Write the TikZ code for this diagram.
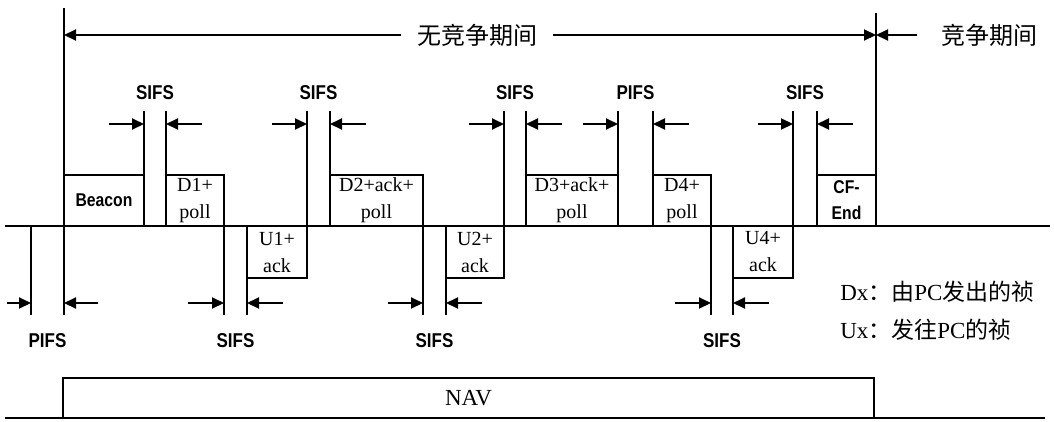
\documentclass[tikz,border=0pt]{standalone}
\usepackage{fontspec}
\setmainfont{Liberation Serif}
\newfontfamily\cjk{Noto Sans CJK SC}
\newfontfamily\lbl[FakeStretch=0.85]{Liberation Sans}
\usetikzlibrary{arrows.meta}
\begin{document}
\begin{tikzpicture}[x=1pt,y=-1pt,line width=2pt,
  tip/.style={-{Triangle[length=12pt,width=11pt]}},
  ifs/.style={font=\lbl\bfseries\fontsize{20}{20}\selectfont},
  fr/.style={draw,line width=2pt,inner sep=0pt,align=center,font=\fontsize{20}{27}\selectfont},
  sansfr/.style={fr,font=\lbl\bfseries\fontsize{18.5}{26}\selectfont},
  zh/.style={font=\cjk\fontsize{24}{24}\selectfont},
  leg/.style={anchor=west,font=\fontsize{23}{23}\selectfont}]
\useasboundingbox (0,0) rectangle (1054,421);
% main timeline and bottom line
\coordinate (bl0) at (5,226); \coordinate (bl1) at (1050,226);
\draw (bl0) -- (bl1);
\coordinate (nl0) at (5,418); \coordinate (nl1) at (1045,418);
\draw (nl0) -- (nl1);
% period bounds
\coordinate (pa) at (64,8); \coordinate (pb) at (64,315);
\draw (pa) -- (pb);
\coordinate (qa) at (876,13); \coordinate (qb) at (876,226);
\draw (qa) -- (qb);
% top period labels
\node[zh] (cfp) at (477,35) {无竞争期间};
\node[zh] (cp) at (989,35) {竞争期间};
\coordinate (cfpL) at (64,35); \coordinate (cfpR) at (876,35);
\draw[tip] (cfp.west) ++(-12,0) -- (cfpL);
\draw[tip] (cfp.east) ++(12,0) -- (cfpR);
\draw[tip] (cp.west) ++(-20,0) -- (cfpR);
% frames above line
\node[sansfr,minimum width=80pt,minimum height=51pt] (beacon) at (104,200.5) {Beacon};
\node[fr,minimum width=58pt,minimum height=51pt] (d1) at (195,200.5) {D1+\\poll};
\node[fr,minimum width=93pt,minimum height=51pt] (d2) at (376.5,200.5) {D2+ack+\\poll};
\node[fr,minimum width=92pt,minimum height=51pt] (d3) at (572,200.5) {D3+ack+\\poll};
\node[fr,minimum width=58pt,minimum height=51pt] (d4) at (682,200.5) {D4+\\poll};
\node[sansfr,minimum width=59pt,minimum height=51pt] (cf) at (846.5,200.5) {CF-\\End};
% frames below line
\node[fr,minimum width=60pt,minimum height=52pt] (u1) at (277,252) {U1+\\ack};
\node[fr,minimum width=58pt,minimum height=52pt] (u2) at (475,252) {U2+\\ack};
\node[fr,minimum width=60pt,minimum height=52pt] (u4) at (763,252) {U4+\\ack};
% NAV
\node[fr,font=\fontsize{23}{23}\selectfont,minimum width=811pt,minimum height=40pt] (nav) at (468.5,398) {NAV};
% top interframe spaces
\foreach \a/\b/\t in {144/166/SIFS,307/330/SIFS,504/526/SIFS,618/653/PIFS,793/817/SIFS}{
  \coordinate (ta\a) at (\a,111); \coordinate (tb\a) at (\a,226);
  \coordinate (tc\a) at (\b,111); \coordinate (td\a) at (\b,226);
  \draw (ta\a) -- (tb\a);
  \draw (tc\a) -- (td\a);
  \coordinate (te\a) at (\a-35,124); \coordinate (tf\a) at (\a,124);
  \coordinate (tg\a) at (\b+36,124); \coordinate (th\a) at (\b,124);
  \draw[tip] (te\a) -- (tf\a);
  \draw[tip] (tg\a) -- (th\a);
  \node[ifs] (tl\a) at ({(\a+\b)/2},93) {\t};
}
% bottom interframe spaces
\foreach \a/\b/\la/\lb/\t in {31/64/24/34/PIFS,224/247/36/36/SIFS,423/446/35/36/SIFS,711/733/36/36/SIFS}{
  \coordinate (ba\a) at (\a,226); \coordinate (bb\a) at (\a,315);
  \coordinate (bc\a) at (\b,226); \coordinate (bd\a) at (\b,315);
  \draw (ba\a) -- (bb\a);
  \draw (bc\a) -- (bd\a);
  \coordinate (be\a) at (\a-\la,303); \coordinate (bf\a) at (\a,303);
  \coordinate (bg\a) at (\b+\lb,303); \coordinate (bh\a) at (\b,303);
  \draw[tip] (be\a) -- (bf\a);
  \draw[tip] (bg\a) -- (bh\a);
  \node[ifs] (bl\a) at ({(\a+\b)/2},341) {\t};
}
% legend
\node[leg] (legd) at (836,292) {Dx{\cjk ：由}PC{\cjk 发出的祯}};
\node[leg] (legu) at (836,330) {Ux{\cjk ：发往}PC{\cjk 的祯}};
\end{tikzpicture}
\end{document}
